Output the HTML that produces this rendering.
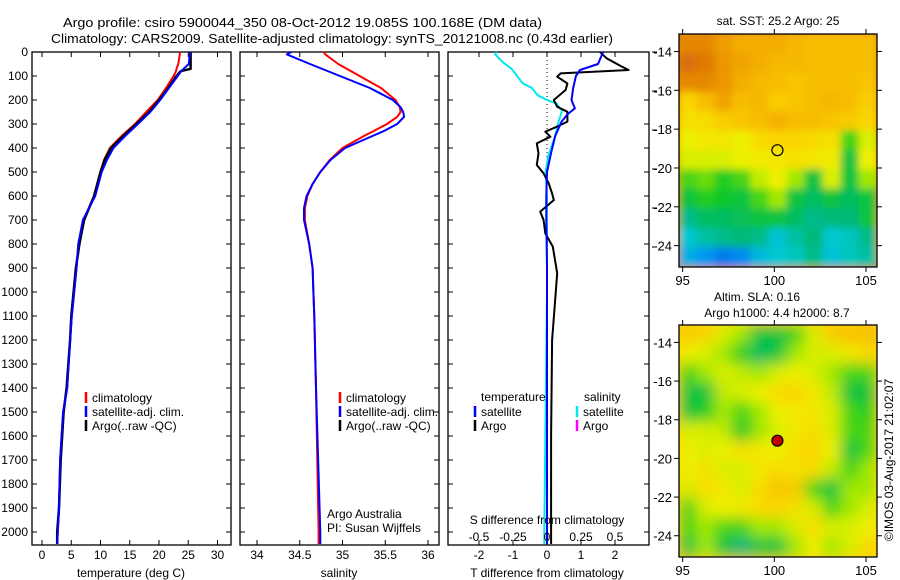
<!DOCTYPE html>
<html><head><meta charset="utf-8">
<style>
html,body{margin:0;padding:0;background:#fff;}
svg{display:block;font-family:"Liberation Sans",Arial,sans-serif;}
text{fill:#000;}
</style></head>
<body>
<svg id="fig" width="900" height="580" viewBox="0 0 900 580" xmlns="http://www.w3.org/2000/svg">
<defs>
<filter id="blurSST" x="0" y="0" width="1" height="1"><feGaussianBlur stdDeviation="4"/></filter>
<filter id="blurSLA" x="0" y="0" width="1" height="1"><feGaussianBlur stdDeviation="7"/></filter>
<clipPath id="clipTop"><rect x="679" y="34" width="198" height="233"/></clipPath>
<clipPath id="clipBot"><rect x="679" y="325" width="198" height="232"/></clipPath>
</defs>
<text x="63" y="27" font-size="13" textLength="479" lengthAdjust="spacingAndGlyphs">Argo profile: csiro 5900044_350 08-Oct-2012 19.085S 100.168E (DM data)</text>
<text x="51" y="43" font-size="13" textLength="562" lengthAdjust="spacingAndGlyphs">Climatology: CARS2009. Satellite-adjusted climatology: synTS_20121008.nc (0.43d earlier)</text>
<g id="g"></g>
</svg>
<script>
// ---------- data ----------
const depthT = [0,50,70,80,100,150,200,250,300,350,400,450,500,600,700,800,900,1000,1100,1200,1400,1500,1700,1900,2000,2050];
const tempClim = [23.6,23.3,23.0,22.9,22.5,21.2,19.8,17.8,15.9,13.6,11.6,10.6,10.0,8.9,7.1,6.2,5.9,5.5,5.1,4.8,4.3,3.6,3.1,2.9,2.7,2.6];
const tempSat  = [25.3,25.1,24.2,23.8,23.2,21.7,20.2,18.5,16.4,14.2,12.2,11.1,10.2,9.1,7.0,6.2,5.9,5.5,5.1,4.8,4.3,3.6,3.1,2.9,2.7,2.6];
const tempArgo = [25.4,25.4,25.4,23.7,23.0,21.6,20.0,18.3,16.1,13.9,11.8,10.7,10.0,8.9,7.2,6.4,5.8,5.4,5.0,4.8,4.2,3.7,3.2,2.9,2.6,2.6];

const depthS = [0,10,50,100,150,200,230,250,270,300,330,350,400,450,500,550,600,650,700,800,900,1000,1100,1400,2000,2050];
const salClim = [34.78,34.8,34.95,35.2,35.45,35.62,35.67,35.68,35.64,35.52,35.36,35.25,35.0,34.85,34.74,34.65,34.59,34.56,34.56,34.61,34.65,34.66,34.67,34.69,34.72,34.72];
const salSat  = [34.40,34.35,34.62,34.97,35.32,35.59,35.68,35.71,35.72,35.64,35.48,35.35,35.03,34.86,34.74,34.65,34.58,34.55,34.55,34.61,34.65,34.66,34.67,34.69,34.74,34.74];

const depthDA = [0,26,61,75,89,103,131,158,200,228,249,290,311,332,353,381,422,471,506,547,589,617,665,700,756,811,922,1200,1600,2000,2050];
const diffTArgo = [1.56,1.75,2.2,2.4,0.4,0.3,0.6,0.55,0.2,0.3,0.6,0.6,0.3,-0.05,0.1,-0.3,-0.25,-0.3,-0.1,0.05,0.15,0.2,-0.2,-0.1,-0.05,0.17,0.3,0.15,0.12,0.12,0.12];
const depthDS = [0,50,75,100,150,200,235,260,290,350,420,500,600,700,900,1200,1600,2000,2050];
const diffTSat = [1.65,1.5,0.97,0.85,0.77,0.72,0.82,0.6,0.43,0.24,0.12,0.0,-0.02,-0.02,0.0,0.0,0.0,0.0,0.0];
const depthDC = [0,10,40,70,100,130,150,180,200,215,245,300,350,430,500,600,700,1000,1500,2000,2050];
const diffSSat = [-0.37,-0.38,-0.33,-0.26,-0.22,-0.18,-0.11,-0.07,0.0,0.07,0.11,0.08,0.06,0.01,-0.01,0.0,0.0,0.0,-0.01,-0.02,-0.02];

const depthTicks = [0,100,200,300,400,500,600,700,800,900,1000,1100,1200,1300,1400,1500,1600,1700,1800,1900,2000];
const tempTicks = [0,5,10,15,20,25,30];
const salTicks = [34,34.5,35,35.5,36];
const tdiffTicks = [-2,-1,0,1,2];
const sdiffTicks = ["-0.5","-0.25","0","0.25","0.5"];
const lonTicks = [95,100,105];
const latTicks = [-14,-16,-18,-20,-22,-24];

const sstGrid = [
[0.95,0.95,0.9,0.85,0.85,0.85,0.82,0.8,0.8,0.8,0.8],
[1,0.98,0.92,0.88,0.85,0.82,0.82,0.8,0.8,0.8,0.8],
[0.95,0.95,0.92,0.85,0.82,0.8,0.78,0.8,0.8,0.8,0.78],
[0.72,0.8,0.88,0.8,0.82,0.75,0.78,0.8,0.82,0.8,0.75],
[0.68,0.7,0.75,0.78,0.8,0.84,0.8,0.8,0.78,0.76,0.72],
[0.62,0.65,0.66,0.62,0.7,0.72,0.72,0.7,0.68,0.5,0.6],
[0.6,0.6,0.6,0.62,0.64,0.66,0.68,0.66,0.64,0.45,0.62],
[0.5,0.52,0.48,0.5,0.58,0.62,0.55,0.45,0.6,0.45,0.55],
[0.45,0.48,0.47,0.45,0.5,0.55,0.45,0.42,0.45,0.42,0.45],
[0.38,0.42,0.42,0.43,0.45,0.45,0.42,0.38,0.4,0.4,0.45],
[0.3,0.35,0.38,0.4,0.38,0.28,0.35,0.4,0.3,0.32,0.38],
[0.22,0.15,0.08,0.12,0.25,0.3,0.32,0.38,0.28,0.32,0.35]];
const slaGrid = [
[0.75,0.72,0.6,0.55,0.45,0.45,0.5,0.6,0.75,0.78,0.8],
[0.62,0.6,0.55,0.48,0.42,0.45,0.55,0.6,0.6,0.65,0.7],
[0.5,0.55,0.6,0.58,0.55,0.6,0.62,0.6,0.55,0.5,0.5],
[0.45,0.45,0.58,0.6,0.62,0.7,0.72,0.65,0.58,0.45,0.45],
[0.45,0.48,0.55,0.5,0.55,0.62,0.65,0.66,0.6,0.5,0.48],
[0.6,0.6,0.58,0.47,0.55,0.6,0.65,0.7,0.6,0.5,0.5],
[0.62,0.6,0.62,0.68,0.66,0.62,0.7,0.72,0.62,0.45,0.5],
[0.62,0.68,0.6,0.6,0.65,0.7,0.68,0.7,0.58,0.5,0.55],
[0.6,0.7,0.65,0.6,0.7,0.78,0.75,0.5,0.45,0.55,0.55],
[0.5,0.6,0.62,0.65,0.7,0.72,0.68,0.6,0.5,0.55,0.6],
[0.5,0.55,0.5,0.5,0.55,0.55,0.6,0.7,0.6,0.6,0.62],
[0.45,0.55,0.45,0.4,0.45,0.45,0.55,0.62,0.55,0.6,0.7]];
const floatLon = 100.168, floatLat = -19.085;

// ---------- helpers ----------
const NS="http://www.w3.org/2000/svg";
const G=document.getElementById('g');
function mk(tag,attrs,parent){const e=document.createElementNS(NS,tag);for(const k in attrs)e.setAttribute(k,attrs[k]);(parent||G).appendChild(e);return e;}
function txt(x,y,s,size,anchor,parent){const t=mk('text',{x:x,y:y,'font-size':size||12,'text-anchor':anchor||'start'},parent);t.textContent=s;return t;}

const top0=52, bot0=545;
const yD = d => top0 + d*0.24;
const xT = v => 42 + v*5.85;
const xS = v => 257 + (v-34)*85.5;
const xTD = v => 547 + v*34;
const xSD = v => 547 + v*136;

function panel(x0,x1,name){
  const r=mk('rect',{x:x0,y:top0,width:x1-x0,height:bot0-top0,fill:'none',stroke:'#000','stroke-width':1.3});
  
  
  depthTicks.forEach(d=>{
    mk('line',{x1:x0,x2:x0+5,y1:yD(d),y2:yD(d),stroke:'#000'});
    mk('line',{x1:x1-5,x2:x1,y1:yD(d),y2:yD(d),stroke:'#000'});
  });
}
function line(xs,ds,xf,color,w,name){
  const p=xs.map((v,i)=>(i?'L':'M')+xf(v).toFixed(1)+','+yD(ds[i]).toFixed(1)).join('');
  const e=mk('path',{d:p,fill:'none',stroke:color,'stroke-width':w,'stroke-linejoin':'round'});
  
  
}
function xticks(ticks,xf,x0,x1,labels,ly){
  ticks.forEach((t,i)=>{
    const x=xf(t);
    mk('line',{x1:x,x2:x,y1:top0,y2:top0+5,stroke:'#000'});
    mk('line',{x1:x,x2:x,y1:bot0-5,y2:bot0,stroke:'#000'});
    const e=txt(x,ly,labels?labels[i]:String(t),12,'middle');
    
    
  });
}
function legendEntry(x,y,color,label){
  const b=mk('line',{x1:x,x2:x,y1:y-10,y2:y+1,stroke:color,'stroke-width':2.5});
  
  
  const t=txt(x+6,y,label,12);
  
  
}

// ---------- panel 1: temperature ----------
panel(32,231,'temperature-panel');
depthTicks.forEach(d=>{const e=txt(28,yD(d)+4,String(d),12,'end');
  
  });
xticks(tempTicks,xT,32,231,null,559);
line(tempClim,depthT,xT,'#ff0000',2,'temp-climatology-line');
line(tempArgo,depthT,xT,'#000000',2.5,'temp-argo-line');
line(tempSat,depthT,xT,'#0000ff',2,'temp-satellite-line');
legendEntry(86,402,'#ff0000','climatology');
legendEntry(86,416,'#0000ff','satellite-adj. clim.');
legendEntry(86,430,'#000000','Argo(..raw -QC)');
{const e=txt(131,577,'temperature (deg C)',12,'middle');}

// ---------- panel 2: salinity ----------
panel(240,439,'salinity-panel');
xticks(salTicks,xS,240,439,null,559);
line(salClim,depthS,xS,'#ff0000',2,'sal-climatology-line');
line(salSat,depthS,xS,'#0000ff',2,'sal-satellite-line');
legendEntry(340,402,'#ff0000','climatology');
legendEntry(340,416,'#0000ff','satellite-adj. clim.');
legendEntry(340,430,'#000000','Argo(..raw -QC)');
{const e=txt(327,518,'Argo Australia',12);}
{const e=txt(327,532,'PI: Susan Wijffels',12);}
{const e=txt(339,577,'salinity',12,'middle');}

// ---------- panel 3: differences ----------
panel(448,649,'difference-panel');
mk('line',{x1:xTD(0),x2:xTD(0),y1:top0,y2:bot0,stroke:'#000','stroke-dasharray':'1,3'});
xticks(tdiffTicks,xTD,448,649,null,559);
[0,100,200,300,400,500].forEach((d,i)=>{mk('line',{x1:652,x2:657,y1:52+i*39,y2:52+i*39,stroke:'#000'});});
line(diffSSat,depthDC,xSD,'#00e8f0',2,'sdiff-satellite-line');
line(diffTArgo,depthDA,xTD,'#000000',2,'tdiff-argo-line');
line(diffTSat,depthDS,xTD,'#0000ff',2,'tdiff-satellite-line');
{const e=txt(481,401,'temperature',12);}
{const e=txt(584,401,'salinity',12);}
legendEntry(475,416,'#0000ff','satellite');
legendEntry(475,430,'#000000','Argo');
legendEntry(577,416,'#00e8f0','satellite');
legendEntry(577,430,'#ff00ff','Argo');
{const e=txt(547,524,'S difference from climatology',12,'middle');}
[-0.5,-0.25,0,0.25,0.5].forEach((v,i)=>{const e=txt(xSD(v),541,sdiffTicks[i],12,'middle');
  
  });
{const e=txt(547,577,'T difference from climatology',12,'middle');}

// ---------- maps ----------
const stops=[[0,[10,92,232]],[0.15,[0,152,240]],[0.3,[0,200,208]],[0.4,[0,184,120]],[0.47,[16,200,40]],[0.55,[160,232,0]],[0.62,[238,240,0]],[0.72,[250,214,0]],[0.82,[246,184,0]],[0.92,[236,150,0]],[1,[218,112,8]]];
function cmap(v){for(let i=1;i<stops.length;i++){if(v<=stops[i][0]){const a=stops[i-1],b=stops[i];const f=(v-a[0])/(b[0]-a[0]);const c=a[1].map((x,k)=>Math.round(x+(b[1][k]-x)*f));return 'rgb('+c.join(',')+')';}}return 'rgb(218,112,8)';}
function map(y0,y1,grid,filt,clip,name){
  const x0=679,x1=877;
  const lonL=94.8,lonR=105.6,latT=-13.1,latB=-25.1;
  const xL=v=>x0+(v-lonL)/(lonR-lonL)*(x1-x0);
  const yL=v=>y0+(latT-v)/(latT-latB)*(y1-y0);
  const cg=mk('g',{'clip-path':'url(#'+clip+')'});
  const g=mk('g',{filter:'url(#'+filt+')'},cg);
  
  
  const nr=grid.length,nc=grid[0].length;
  const cw=(x1-x0)/nc, ch=(y1-y0)/nr;
  mk('rect',{x:x0-10,y:y0-10,width:x1-x0+20,height:y1-y0+20,fill:cmap(grid[0][0])},g);
  grid.forEach((row,r)=>row.forEach((v,c)=>{
    const e=mk('rect',{x:(x0+c*cw-0.5).toFixed(1),y:(y0+r*ch-0.5).toFixed(1),width:(cw+1).toFixed(1),height:(ch+1).toFixed(1),fill:cmap(v)},g);
    
    
  }));
  mk('rect',{x:x0,y:y0,width:x1-x0,height:y1-y0,fill:'none',stroke:'#000','stroke-width':1.3});
  lonTicks.forEach(l=>{const x=xL(l);
    mk('line',{x1:x,x2:x,y1:y0,y2:y0-5,stroke:'#000'});
    mk('line',{x1:x,x2:x,y1:y1,y2:y1+5,stroke:'#000'});
    const e=txt(x,y1+18,String(l),13,'middle');
    
    });
  latTicks.forEach(l=>{const y=yL(l);
    mk('line',{x1:x0,x2:x0-5,y1:y,y2:y,stroke:'#000'});
    mk('line',{x1:x1,x2:x1+5,y1:y,y2:y,stroke:'#000'});
    const e=txt(672,y+5,String(l),13,'end');
    
    });
  return {xL,yL};
}
const m1=map(34,267,sstGrid,'blurSST','clipTop','sst-map');
{const c=mk('circle',{cx:m1.xL(floatLon),cy:m1.yL(floatLat),r:5.5,fill:'none',stroke:'#000','stroke-width':1.2});}
{const e=txt(778,25,'sat. SST: 25.2 Argo: 25',12,'middle');}
const m2=map(325,557,slaGrid,'blurSLA','clipBot','sla-map');
{const c=mk('circle',{cx:m2.xL(floatLon),cy:m2.yL(floatLat),r:5.5,fill:'#c00000',stroke:'#000','stroke-width':1.2});}
{const e=txt(757,301,'Altim. SLA: 0.16',12,'middle');}
{const e=txt(777,317,'Argo h1000: 4.4 h2000: 8.7',12,'middle');}
{const e=txt(0,0,'©IMOS 03-Aug-2017 21:02:07',12,'middle');e.setAttribute('transform','translate(893,460) rotate(-90)');}
</script>
</body></html>
